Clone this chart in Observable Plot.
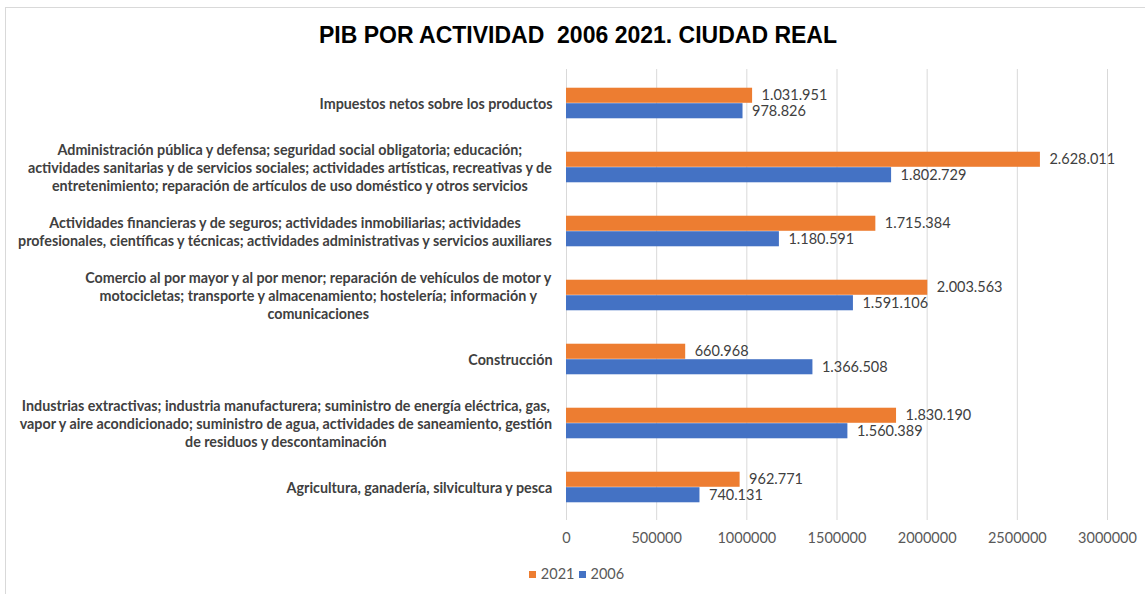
<!DOCTYPE html>
<html>
<head>
<meta charset="utf-8">
<script src="https://cdn.jsdelivr.net/npm/d3@7"></script>
<script src="https://cdn.jsdelivr.net/npm/@observablehq/plot@0.6"></script>
<style>
  html, body { margin: 0; padding: 0; background: #fff; }
  #wrap { position: relative; width: 1145px; height: 594px; overflow: hidden; }
  #frame { position: absolute; left: 5px; top: 7px; width: 1150px; height: 600px; border: 1px solid #d9d9d9; pointer-events: none; }
  #title { height: 62px; box-sizing: border-box; padding-top: 20px; padding-left: 11px; line-height: 30px; text-align: center;
           font-family: "Liberation Sans", Arial, sans-serif; font-weight: bold; font-size: 23px; color: #000; white-space: pre; }
  #legend { height: 40px; line-height: 40px; text-align: center; font-family: Lato, sans-serif; font-size: 14.5px; color: #595959; padding-left: 8px; }
  .sw { display: inline-block; width: 7px; height: 7px; margin-right: 5px; vertical-align: 1px; }
  .item { margin: 0 2px; }
  svg { display: block; }
</style>
</head>
<body>
<div id="wrap">
  <div id="frame"></div>
  <div id="title"></div>
  <div id="chart"></div>
  <div id="legend"></div>
</div>
<script>
const titleText = "PIB POR ACTIVIDAD  2006 2021. CIUDAD REAL";
const categories = [
  "Impuestos netos sobre los productos",
  "Administración pública y defensa; seguridad social obligatoria; educación;\nactividades sanitarias y de servicios sociales; actividades artísticas, recreativas y de\nentretenimiento; reparación de artículos de uso doméstico y otros servicios",
  "Actividades financieras y de seguros; actividades inmobiliarias; actividades\nprofesionales, científicas y técnicas; actividades administrativas y servicios auxiliares",
  "Comercio al por mayor y al por menor; reparación de vehículos de motor y\nmotocicletas; transporte y almacenamiento; hostelería; información y\ncomunicaciones",
  "Construcción",
  "Industrias extractivas; industria manufacturera; suministro de energía eléctrica, gas,\nvapor y aire acondicionado; suministro de agua, actividades de saneamiento, gestión\nde residuos y descontaminación",
  "Agricultura, ganadería, silvicultura y pesca"
];
const values2021 = [1031951, 2628011, 1715384, 2003563, 660968, 1830190, 962771];
const values2006 = [978826, 1802729, 1180591, 1591106, 1366508, 1560389, 740131];
const seriesNames = ["2021", "2006"];
const seriesColors = ["#ED7D31", "#4472C4"];
const xTicks = [0, 500000, 1000000, 1500000, 2000000, 2500000, 3000000];

document.getElementById("title").textContent = titleText;

const data2021 = categories.map((c, i) => ({cat: c, value: values2021[i]}));
const data2006 = categories.map((c, i) => ({cat: c, value: values2006[i]}));

const fmt = d3.formatLocale({thousands: ".", grouping: [3], decimal: ","}).format(",d");

const W = 1145, H = 492, mT = 7, mB = 34, mL = 566, mR = 38;
const bw = (H - mT - mB) / categories.length;
const barH = 15.5;
const catSize = 14.3;

const ctx = document.createElement("canvas").getContext("2d");
ctx.font = `bold ${catSize}px Lato`;
const labelMarks = categories.map(c => {
  const w = d3.max(c.split("\n"), l => ctx.measureText(l).width);
  return Plot.text([c], {
    y: d => d, text: d => d, frameAnchor: "left", textAnchor: "middle", lineAnchor: "middle",
    dx: -(14 + w / 2), fontFamily: "Lato", fontWeight: "bold", fontSize: catSize, lineHeight: 18 / catSize, fill: "#404040"
  });
});

const chart = Plot.plot({
  width: W, height: H, marginTop: mT, marginBottom: mB, marginLeft: mL, marginRight: mR,
  style: {fontFamily: "Lato", background: "transparent"},
  x: {domain: [0, 3000000], axis: null, label: null},
  y: {domain: categories, padding: 0, axis: null, label: null},
  marks: [
    Plot.gridX(xTicks, {stroke: "#d9d9d9", strokeOpacity: 1, strokeWidth: 1}),
    Plot.axisX(xTicks, {tickSize: 0, tickPadding: 12, label: null, tickFormat: d3.format("d"), fontSize: 14.5, fill: "#595959", fontFamily: "Lato"}),
    Plot.barX(data2021, {x: "value", y: "cat", fill: seriesColors[0], insetTop: bw / 2 - barH, insetBottom: bw / 2}),
    Plot.barX(data2006, {x: "value", y: "cat", fill: seriesColors[1], insetTop: bw / 2, insetBottom: bw / 2 - barH}),
    Plot.text(data2021, {x: "value", y: "cat", text: d => fmt(d.value), dx: 9, dy: -barH / 2, textAnchor: "start", fontSize: 14.5, fill: "#404040", fontFamily: "Lato"}),
    Plot.text(data2006, {x: "value", y: "cat", text: d => fmt(d.value), dx: 9, dy: barH / 2, textAnchor: "start", fontSize: 14.5, fill: "#404040", fontFamily: "Lato"}),
    ...labelMarks
  ]
});
document.getElementById("chart").appendChild(chart);

const legend = document.getElementById("legend");
seriesNames.forEach((n, i) => {
  const s = document.createElement("span");
  s.className = "item";
  s.innerHTML = `<span class="sw" style="background:${seriesColors[i]}"></span>${n}`;
  legend.appendChild(s);
});
</script>
</body>
</html>
